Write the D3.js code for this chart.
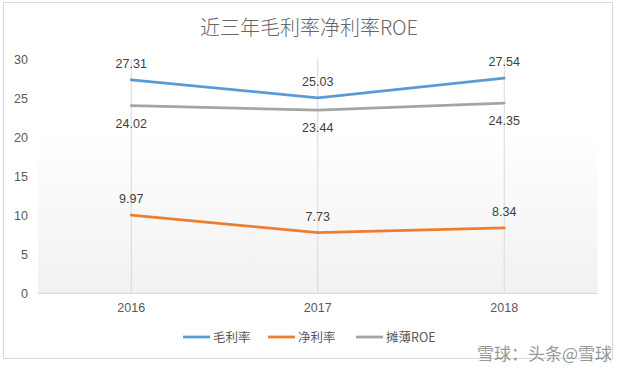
<!DOCTYPE html>
<html><head><meta charset="utf-8">
<script src="https://cdn.jsdelivr.net/npm/d3@7"></script>
<style>
html,body{margin:0;padding:0;background:#fff;}
svg{display:block;font-family:"Noto Sans CJK SC","Liberation Sans",Arial,sans-serif;}
</style></head>
<body><svg id="c" width="617" height="371"></svg>
<script>
const years = ["2016","2017","2018"];
const grossMargin = [27.31, 25.03, 27.54];
const netMargin = [9.97, 7.73, 8.34];
const dilutedROE = [24.02, 23.44, 24.35];
const yTicks = [0,5,10,15,20,25,30];
const seriesNames = ["毛利率","净利率","摊薄ROE"];
const seriesColors = ["#5B9BD5","#ED7D31","#A5A5A5"];
const labelPos = ["above","above","below"];
const titleText = "近三年毛利率净利率ROE";

const svg = d3.select("#c");
const W = 617, H = 371;
const m = {left:38, right:19.5, top:59, bottom:78};
const x = d3.scaleBand().domain(years).range([m.left, W - m.right]);
const y = d3.scaleLinear().domain([0,30]).range([H - m.bottom, m.top]);

// outer border
svg.append("rect").attr("x",3.5).attr("y",2.5).attr("width",609).attr("height",356)
  .attr("fill","#fff").attr("stroke","#d9d9d9");

// plot background gradient
const defs = svg.append("defs");
const g = defs.append("linearGradient").attr("id","bg").attr("x1",0).attr("y1",0).attr("x2",0).attr("y2",1);
g.append("stop").attr("offset","0%").attr("stop-color","#ffffff");
g.append("stop").attr("offset","30%").attr("stop-color","#ffffff");
g.append("stop").attr("offset","100%").attr("stop-color","#f1f1f1");
svg.append("rect").attr("x",m.left).attr("y",m.top).attr("width",W-m.right-m.left).attr("height",y(0)-m.top)
  .attr("fill","url(#bg)");

// title
svg.append("text").attr("x",309).attr("y",35).attr("text-anchor","middle")
  .attr("font-size",20).attr("font-weight",300).attr("fill","#666666").text(titleText);

// vertical gridlines
svg.append("g").selectAll("line").data(years).join("line")
  .attr("x1",d=>x(d)+x.bandwidth()/2).attr("x2",d=>x(d)+x.bandwidth()/2)
  .attr("y1",y(30)).attr("y2",y(0)).attr("stroke","#d9d9d9").attr("stroke-width",1);

// baseline
svg.append("line").attr("x1",m.left).attr("x2",W-m.right).attr("y1",y(0)+0.5).attr("y2",y(0)+0.5)
  .attr("stroke","#d9d9d9");

// y axis
const ya = svg.append("g").attr("transform",`translate(${m.left-10},0)`)
  .call(d3.axisLeft(y).tickValues(yTicks).tickSize(0).tickPadding(0));
ya.select(".domain").remove();
ya.selectAll("text").attr("font-size",12.5).attr("fill","#595959").attr("font-family","Liberation Sans, Arial, sans-serif");

// x axis
const xa = svg.append("g").attr("transform",`translate(0,${y(0)})`)
  .call(d3.axisBottom(x).tickSize(0).tickPadding(10));
xa.select(".domain").remove();
xa.selectAll("text").attr("font-size",12.5).attr("fill","#595959").attr("font-family","Liberation Sans, Arial, sans-serif");

const all = [grossMargin, netMargin, dilutedROE];
const cx = d => x(d)+x.bandwidth()/2;
all.forEach((vals,i)=>{
  const data = years.map((yr,j)=>({yr, v:vals[j]}));
  svg.append("path").datum(data)
    .attr("d", d3.line().x(d=>cx(d.yr)).y(d=>y(d.v)))
    .attr("fill","none").attr("stroke",seriesColors[i]).attr("stroke-width",2.75).attr("stroke-linecap","round");
  svg.append("g").selectAll("text").data(data).join("text")
    .attr("x",d=>cx(d.yr)).attr("y",d=> labelPos[i]==="above" ? y(d.v)-12 : y(d.v)+22)
    .attr("text-anchor","middle").attr("font-size",12.5).attr("fill","#404040")
    .attr("font-family","Liberation Sans, Arial, sans-serif")
    .text(d=>d.v.toFixed(2));
});

// legend
const legX = [183, 268, 356];
const lg = svg.append("g");
seriesNames.forEach((n,i)=>{
  lg.append("line").attr("x1",legX[i]).attr("x2",legX[i]+27).attr("y1",337).attr("y2",337)
    .attr("stroke",seriesColors[i]).attr("stroke-width",2.75);
  lg.append("text").attr("x",legX[i]+30).attr("y",342).attr("font-size",12.5).attr("fill","#595959").text(n);
});

// watermark
svg.append("text").attr("x",612).attr("y",360).attr("text-anchor","end").attr("font-size",17)
  .attr("fill","#333").attr("opacity",0.5).text("雪球：头条@雪球");
</script></body></html>
